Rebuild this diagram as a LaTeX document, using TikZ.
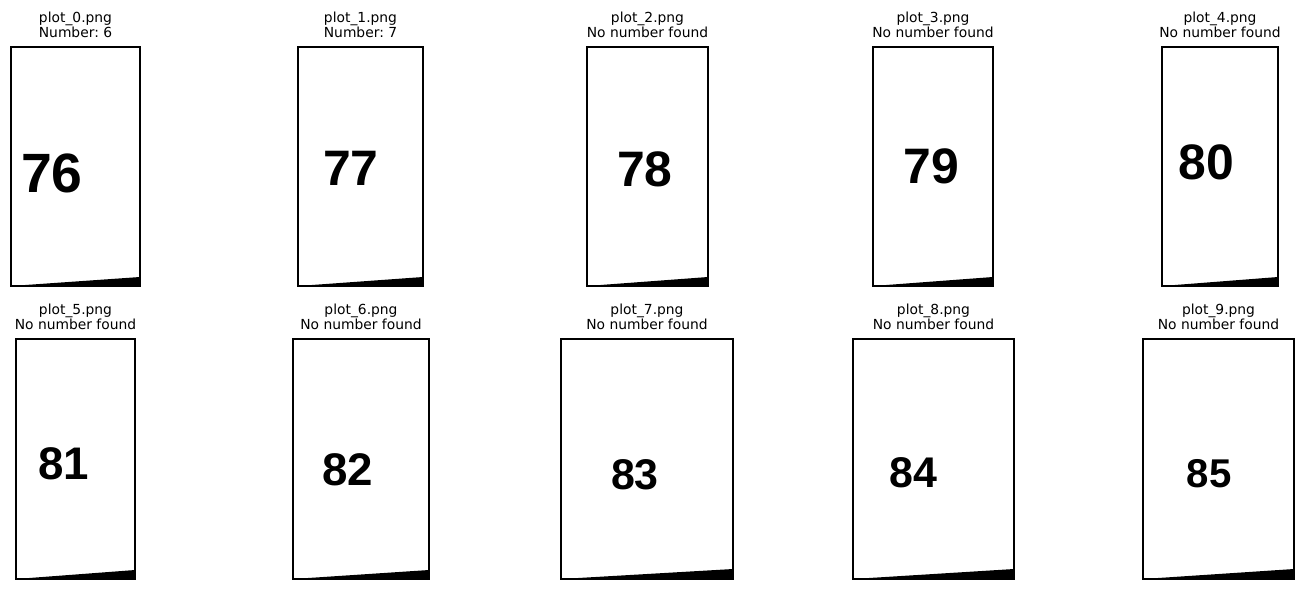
\documentclass[tikz,border=0pt]{standalone}
\usepackage{fontspec}
\setmainfont{DejaVu Sans}
\newfontfamily\digitfont{Liberation Sans}
\usepackage{tikz}
\frenchspacing
\tikzset{%
  panel frame/.style = {line width = 1.1pt, fill = white},
  panel title/.style = {anchor = south, inner sep = 0pt, align = center,
    font = \fontsize{10}{11.2}\selectfont},
  digit label/.style = {inner sep = 0pt},
}
\begin{document}
\begin{tikzpicture}[x=0.01in, y=-0.01in]
\useasboundingbox (0,0) rectangle (1305,590);
% top row
\draw[panel frame] (11,47) rectangle (140,286);
\fill (11,286) -- (140,277) -- (140,286) -- cycle;
\node[digit label, font=\digitfont\bfseries\fontsize{40}{41}\selectfont] (d0) at (52,173) {76};
\node[panel title] (t0) at (75.5,38) {plot\_0.png\\Number: 6};
\draw[panel frame] (298,47) rectangle (423,286);
\fill (298,286) -- (423,277) -- (423,286) -- cycle;
\node[digit label, font=\digitfont\bfseries\fontsize{36}{37}\selectfont] (d1) at (351,168) {77};
\node[panel title] (t1) at (360.5,38) {plot\_1.png\\Number: 7};
\draw[panel frame] (587,47) rectangle (708,286);
\fill (587,286) -- (708,277) -- (708,286) -- cycle;
\node[digit label, font=\digitfont\bfseries\fontsize{36}{37}\selectfont] (d2) at (645,169) {78};
\node[panel title] (t2) at (647.5,38) {plot\_2.png\\No number found};
\draw[panel frame] (873,47) rectangle (993,286);
\fill (873,286) -- (993,277) -- (993,286) -- cycle;
\node[digit label, font=\digitfont\bfseries\fontsize{36}{37}\selectfont] (d3) at (931,166) {79};
\node[panel title] (t3) at (933,38) {plot\_3.png\\No number found};
\draw[panel frame] (1162,47) rectangle (1278,286);
\fill (1162,286) -- (1278,277) -- (1278,286) -- cycle;
\node[digit label, font=\digitfont\bfseries\fontsize{36}{37}\selectfont] (d4) at (1206,162) {80};
\node[panel title] (t4) at (1220,38) {plot\_4.png\\No number found};
% bottom row
\draw[panel frame] (16,339) rectangle (135,579);
\fill (16,579) -- (135,570) -- (135,579) -- cycle;
\node[digit label, font=\digitfont\bfseries\fontsize{33}{34}\selectfont] (d5) at (64,464) {81};
\node[panel title] (t5) at (75.5,330) {plot\_5.png\\No number found};
\draw[panel frame] (293,339) rectangle (429,579);
\fill (293,579) -- (429,570) -- (429,579) -- cycle;
\node[digit label, font=\digitfont\bfseries\fontsize{33}{34}\selectfont] (d6) at (348,470) {82};
\node[panel title] (t6) at (361,330) {plot\_6.png\\No number found};
\draw[panel frame] (561,339) rectangle (733,579);
\fill (561,579) -- (733,569) -- (733,579) -- cycle;
\node[digit label, font=\digitfont\bfseries\fontsize{31}{32}\selectfont] (d7) at (635,475) {83};
\node[panel title] (t7) at (647,330) {plot\_7.png\\No number found};
\draw[panel frame] (853,339) rectangle (1014,579);
\fill (853,579) -- (1014,569) -- (1014,579) -- cycle;
\node[digit label, font=\digitfont\bfseries\fontsize{31}{32}\selectfont] (d8) at (913,473) {84};
\node[panel title] (t8) at (933.5,330) {plot\_8.png\\No number found};
\draw[panel frame] (1143,339) rectangle (1294,579);
\fill (1143,579) -- (1294,569) -- (1294,579) -- cycle;
\node[digit label, font=\digitfont\bfseries\fontsize{29}{30}\selectfont] (d9) at (1209,474) {85};
\node[panel title] (t9) at (1218.5,330) {plot\_9.png\\No number found};
\end{tikzpicture}
\end{document}
